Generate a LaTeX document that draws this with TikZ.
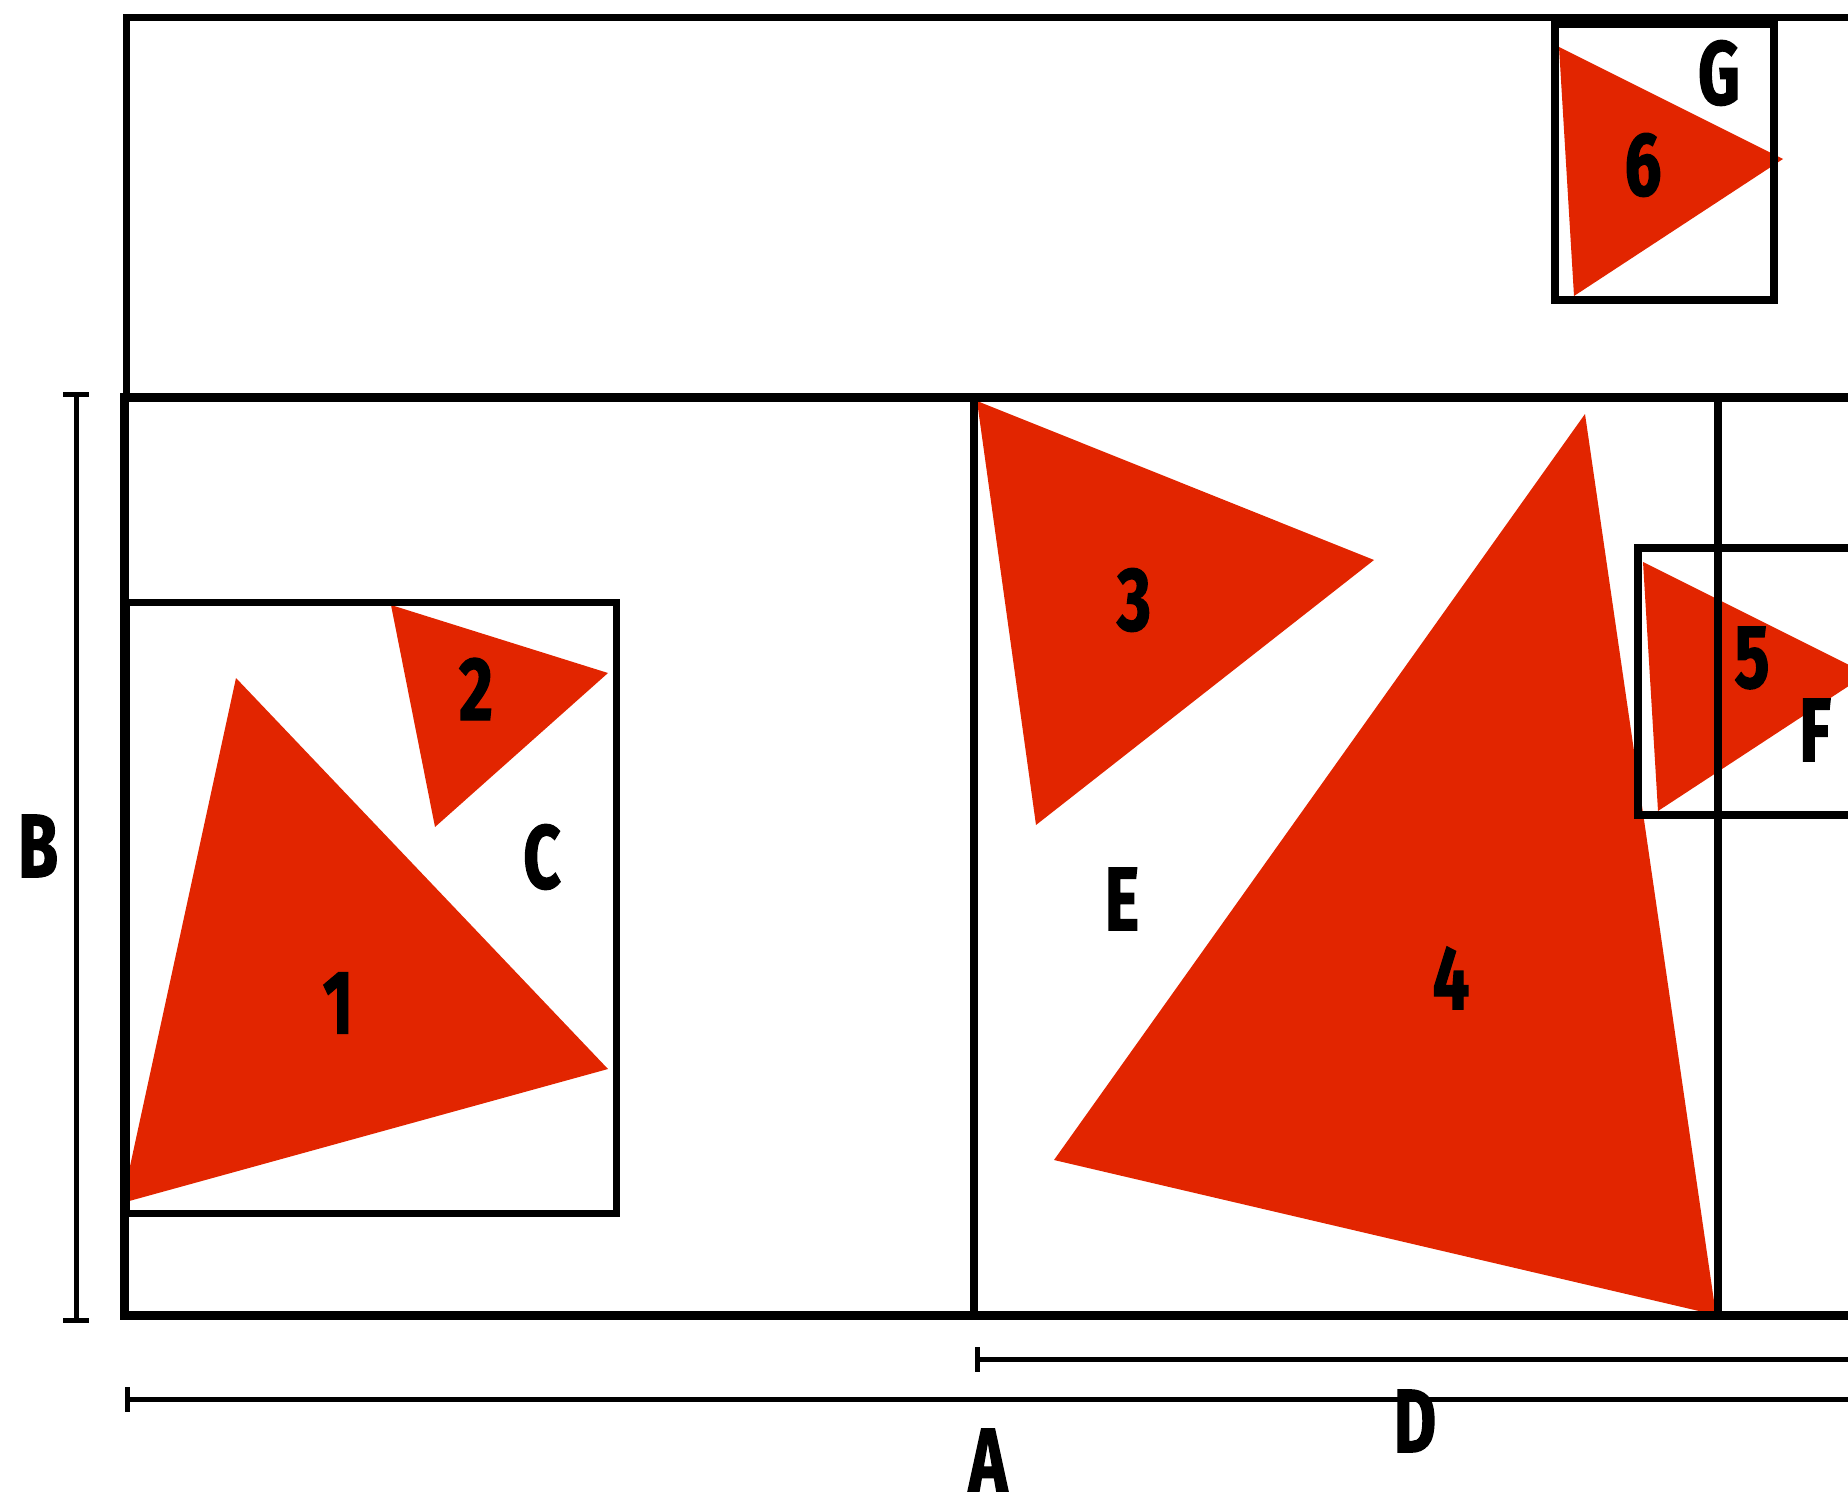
\documentclass[tikz,border=0pt]{standalone}
\usepackage{fontspec}
\setmainfont{Fira Sans}[FakeStretch=0.72, BoldFeatures={FakeBold=1.5}]
\usepackage{tikz}
\usetikzlibrary{positioning}
\definecolor{trired}{RGB}{226,37,0}

\begin{document}
\begin{tikzpicture}[x=1pt,y=-1pt,
	tri/.style={fill=trired},
	frame/.style={line width=9pt},
	box/.style={line width=8pt},
	dim/.style={line width=5pt},
	lbl/.style={font=\fontsize{90}{90}\selectfont\bfseries, inner sep=0pt}]
	\useasboundingbox (0,0) rectangle (1848,1493);
	\clip (0,0) rectangle (1848,1493);
	% triangles
	\fill[tri] (236,678) -- (608,1069) -- (122,1203) -- cycle; % 1
	\fill[tri] (391,605) -- (608,673) -- (435,827) -- cycle; % 2
	\fill[tri] (977,401) -- (1374,560) -- (1036,825) -- cycle; % 3
	\fill[tri] (1585,414) -- (1716,1315) -- (1054,1160) -- cycle; % 4
	\fill[tri] (1643,562) -- (1867,674) -- (1658,811) -- cycle; % 5
	\fill[tri] (1559,47) -- (1783,159) -- (1574,296) -- cycle; % 6
	% upper strip
	\draw[line width=7pt] (126,397) -- (126,18) -- (1900,18);
	% main frame
	\draw[frame] (1900,397) -- (124,397) -- (124,1315) -- (1900,1315);
	\draw[box] (974,397) -- (974,1315);
	\draw[box] (1718,397) -- (1718,1315);
	% boxes C, F, G
	\draw[line width=7pt] (126,602) rectangle (616,1213);
	\draw[box] (1638,548) rectangle (1950,815);
	\draw[box] (1555,24) rectangle (1774,300);
	% dimensions
	\draw[dim] (76,394) -- (76,1320);
	\draw[dim] (63,394) -- (89,394);
	\draw[dim] (63,1320) -- (89,1320);
	\draw[dim] (977,1359) -- (1900,1359);
	\draw[dim] (977,1347) -- (977,1372);
	\draw[dim] (127,1399) -- (1900,1399);
	\draw[dim] (127,1387) -- (127,1412);
	% labels
	\node[lbl] (n1) at (338,1003) {1};
	\node[lbl] (n2) at (476,689) {2};
	\node[lbl] (n3) at (1134,600) {3};
	\node[lbl] (n4) at (1451,978) {4};
	\node[lbl] (n5) at (1752,658) {5};
	\node[lbl] (n6) at (1643,165) {6};
	\node[lbl] (lA) at (988,1460) {A};
	\node[lbl] (lB) at (38,846) {B};
	\node[lbl] (lC) at (542,857) {C};
	\node[lbl] (lD) at (1415,1421) {D};
	\node[lbl] (lE) at (1122,899) {E};
	\node[lbl] (lF) at (1815,730) {F};
	\node[lbl] (lG) at (1719,73) {G};
\end{tikzpicture}
\end{document}
